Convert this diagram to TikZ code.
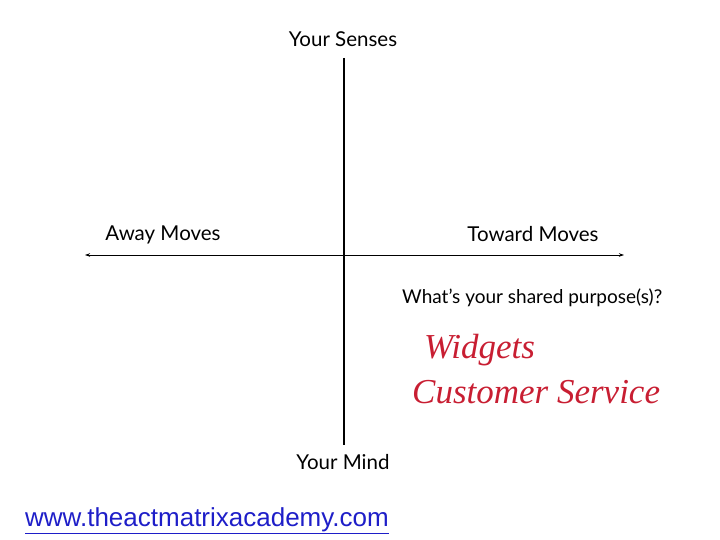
\documentclass[tikz,border=0pt]{standalone}
\usepackage{fontspec}
\setmainfont{Lato}
\newfontfamily\urlfont{Liberation Sans}
\newfontfamily\handfont{Liberation Serif}
\usetikzlibrary{arrows.meta,positioning}

\definecolor{inkred}{RGB}{200,30,50}
\definecolor{linkblue}{RGB}{30,30,200}

\begin{document}
\begin{tikzpicture}[x=1pt,y=-1pt,>={Stealth[length=5pt,width=3.5pt]}]
  \useasboundingbox (0,0) rectangle (720,540);
  \tikzset{
    axislabel/.style={inner sep=0pt,font=\fontsize{20.5}{24}\selectfont},
    hand/.style={inner sep=0pt,anchor=west,text=inkred,font=\handfont\itshape\fontsize{35}{40}\selectfont}
  }

  % -- AXES ----------------------------------------------------------
  \coordinate (top) at (344,58);
  \coordinate (bottom) at (344,445);
  \coordinate (left) at (85,255);
  \coordinate (right) at (624,255);
  \draw[line width=1.6pt] (top) -- (bottom);
  \draw[<->,line width=0.8pt] (left) -- (right);

  % -- LABELS --------------------------------------------------------
  \node[axislabel] (senses) at (343,39) {Your Senses};
  \node[axislabel] (mind) at (343,462) {Your Mind};
  \node[axislabel] (away) at (163,235) {Away Moves};
  \node[axislabel] (toward) at (533,234) {Toward Moves};
  \node[axislabel,anchor=west,font=\fontsize{19}{22}\selectfont] (purpose) at (402,298) {What’s your shared purpose(s)?};

  % -- HANDWRITING ---------------------------------------------------
  \node[hand] (widgets) at (424,350) {Widgets};
  \node[hand] (service) at (412,392) {Customer Service};

  % -- LINK ----------------------------------------------------------
  \node[inner sep=0pt,anchor=west,text=linkblue,font=\urlfont\fontsize{26}{30}\selectfont] (site) at (25,521)
    {\underline{www.theactmatrixacademy.com}};

\end{tikzpicture}
\end{document}
